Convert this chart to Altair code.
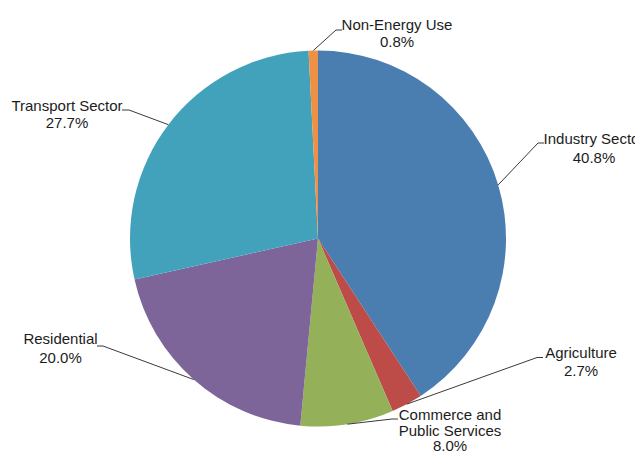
import math
import altair as alt
import pandas as pd

# ---- data ----
categories = ["Industry Sector", "Agriculture", "Commerce and Public Services",
              "Residential", "Transport Sector", "Non-Energy Use"]
shares = [40.8, 2.7, 8.0, 20.0, 27.7, 0.8]
colors = ["#4A7EB1", "#BD4B48", "#94B058", "#7D6599", "#43A2BB", "#EE9145"]
name_lines = [["Industry Sector"], ["Agriculture"], ["Commerce and", "Public Services"],
              ["Residential"], ["Transport Sector"], ["Non-Energy Use"]]

# ---- layout (page pixel coordinates) ----
W, H = 627, 446
CX, CY, R = 318, 238.5, 188
label_cx = [594, 581, 450, 60.5, 67, 397]
label_y0 = [139, 352.5, 415, 339, 106, 25]
label_step = [18.5, 18.5, 15.5, 19, 17, 16.5]
leader_mid = [(538, 143), (537, 357.5), (392, 419), (103, 346), (129, 110), (336, 30)]
leader_end = [(544, 143), (543, 357.5), (398, 419), (97, 346), (122, 110), (342, 30)]

pie_df = pd.DataFrame({"category": categories, "share": shares, "idx": range(len(shares))})

# leader lines from slice edge (mid-angle) to label
total = sum(shares)
rows = []
cum = 0.0
for i, s in enumerate(shares):
    mid = (cum + s / 2) / total * 2 * math.pi
    cum += s
    ex = CX + R * math.sin(mid)
    ey = CY - R * math.cos(mid)
    pts = [(ex, ey), leader_mid[i], leader_end[i]]
    for k, (px, py) in enumerate(pts):
        rows.append({"label": categories[i], "o": k, "x": px, "y": py})
line_df = pd.DataFrame(rows)

trows = []
for i, s in enumerate(shares):
    lines = name_lines[i] + [f"{s:.1f}%"]
    for k, t in enumerate(lines):
        trows.append({"text": t, "x": label_cx[i], "y": label_y0[i] + k * label_step[i]})
text_df = pd.DataFrame(trows)

xs = alt.Scale(domain=[8, 8 + W], range=[0, W], zero=False, nice=False)
ys = alt.Scale(domain=[8, 8 + H], range=[0, H], zero=False, nice=False)

pie = alt.Chart(pie_df).mark_arc(radius=R, strokeWidth=0).encode(
    theta=alt.Theta("share:Q", stack=True),
    color=alt.Color("category:N", scale=alt.Scale(domain=categories, range=colors), legend=None),
    order=alt.Order("idx:Q"),
    x=alt.value(CX - 8),
    y=alt.value(CY - 8),
)

leaders = alt.Chart(line_df).mark_line(color="#3a3a3a", strokeWidth=1).encode(
    x=alt.X("x:Q", scale=xs, axis=None),
    y=alt.Y("y:Q", scale=ys, axis=None),
    detail="label:N",
    order="o:Q",
)

labels = alt.Chart(text_df).mark_text(
    font="Liberation Sans", fontSize=15, color="#1c1c1c", align="center", baseline="middle"
).encode(
    x=alt.X("x:Q", scale=xs, axis=None),
    y=alt.Y("y:Q", scale=ys, axis=None),
    text="text:N",
)

chart = alt.layer(pie, leaders, labels).properties(
    width=W, height=H, padding=0, autosize="none"
).configure_view(stroke=None)

chart.save("out.html", embed_options={"renderer": "svg", "actions": False})
